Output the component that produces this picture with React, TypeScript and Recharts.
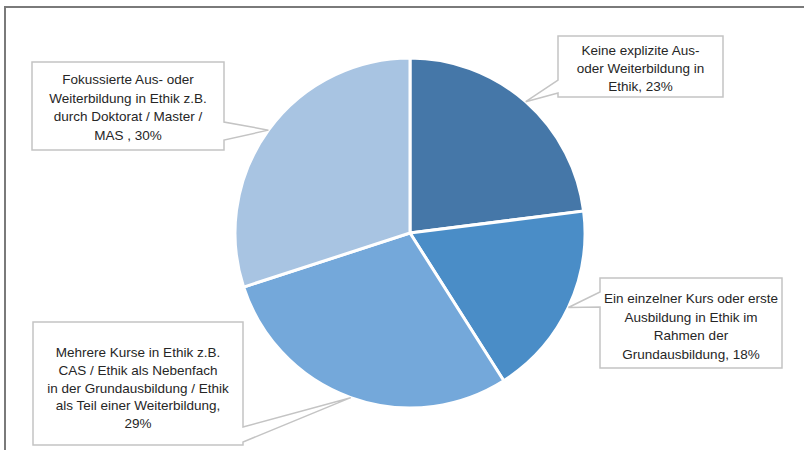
import React from "react";
import { PieChart, Pie, Cell } from "recharts";

const categories = [
  "Keine explizite Ausbildung",
  "Ein einzelner Kurs",
  "Mehrere Kurse",
  "Fokussierte Ausbildung",
];
const values = [23, 18, 29, 30];
const labelLines: string[][] = [
  ["Keine explizite Aus-", "oder Weiterbildung in", "Ethik, 23%"],
  ["Ein einzelner Kurs oder erste", "Ausbildung in Ethik im", "Rahmen der", "Grundausbildung, 18%"],
  [
    "Mehrere Kurse in Ethik z.B.",
    "CAS / Ethik als Nebenfach",
    "in der Grundausbildung / Ethik",
    "als Teil einer Weiterbildung,",
    "29%",
  ],
  ["Fokussierte Aus- oder", "Weiterbildung in Ethik z.B.", "durch Doktorat / Master /", "MAS , 30%"],
];
const colors = ["#4577a8", "#4a8dc7", "#74a8da", "#a8c4e2"];

const data = categories.map((name, i) => ({ name, value: values[i] }));

type Box = { x: number; y: number; w: number; h: number; side: "left" | "right"; n1: number; n2: number; firstY: number; gap: number };
const boxes: Box[] = [
  { x: 558, y: 36, w: 165, h: 61, side: "left", n1: 80, n2: 93, firstY: 55, gap: 18 },
  { x: 600, y: 278, w: 182, h: 90, side: "left", n1: 292, n2: 307, firstY: 303, gap: 18.5 },
  { x: 33, y: 322, w: 210, h: 123, side: "right", n1: 427, n2: 442, firstY: 357, gap: 17.8 },
  { x: 32, y: 62, w: 192, h: 88, side: "right", n1: 122, n2: 140, firstY: 84, gap: 18.5 },
];

const RAD = Math.PI / 180;

const renderLabel = (props: any) => {
  const { cx, cy, midAngle, outerRadius, index } = props;
  const b = boxes[index];
  const ax = cx + outerRadius * Math.cos(-midAngle * RAD);
  const ay = cy + outerRadius * Math.sin(-midAngle * RAD);
  let d: string;
  if (b.side === "left") {
    d = `M${b.x},${b.y} H${b.x + b.w} V${b.y + b.h} H${b.x} V${b.n2} L${ax},${ay} L${b.x},${b.n1} Z`;
  } else {
    d = `M${b.x},${b.y} H${b.x + b.w} V${b.n1} L${ax},${ay} L${b.x + b.w},${b.n2} V${b.y + b.h} H${b.x} Z`;
  }
  const tx = b.x + b.w / 2;
  return (
    <g key={`lbl-${index}`}>
      <path d={d} fill="#ffffff" stroke="#c4c4c4" strokeWidth={1.5} />
      <text
        x={tx}
        y={b.firstY}
        textAnchor="middle"
        fontFamily="'Liberation Sans', Arial, sans-serif"
        fontSize={13.5}
        fill="#262626"
      >
        {labelLines[index].map((ln, i) => (
          <tspan key={i} x={tx} y={b.firstY + i * b.gap}>
            {ln}
          </tspan>
        ))}
      </text>
    </g>
  );
};

export default function App() {
  return (
    <div style={{ position: "absolute", left: 0, top: 0, width: 804, height: 450, background: "#ffffff" }}>
      <div
        style={{
          position: "absolute",
          left: 4,
          top: 6,
          width: 800,
          height: 444,
          borderTop: "2px solid #7a7a7a",
          borderLeft: "2px solid #7a7a7a",
          boxSizing: "border-box",
        }}
      />
      <div style={{ position: "absolute", left: 0, top: 0 }}>
        <PieChart width={804} height={450} margin={{ top: 0, right: 0, bottom: 0, left: 0 }}>
          <Pie
            data={data}
            dataKey="value"
            nameKey="name"
            cx={410}
            cy={233}
            outerRadius={175}
            startAngle={90}
            endAngle={-270}
            stroke="#ffffff"
            strokeWidth={3}
            label={renderLabel}
            labelLine={false}
            isAnimationActive={false}
          >
            {data.map((_, i) => (
              <Cell key={i} fill={colors[i]} />
            ))}
          </Pie>
        </PieChart>
      </div>
    </div>
  );
}
